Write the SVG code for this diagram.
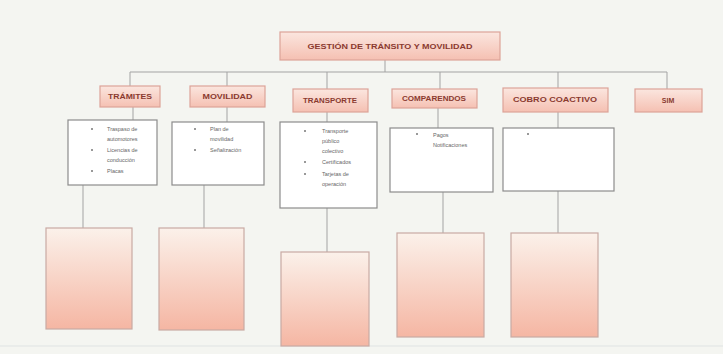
<svg xmlns="http://www.w3.org/2000/svg" width="723" height="354" viewBox="0 0 723 354">
<defs>
<linearGradient id="hdr" x1="0" y1="0" x2="0" y2="1">
<stop offset="0" stop-color="#fbe6df"/>
<stop offset="1" stop-color="#f5c0b2"/>
</linearGradient>
<linearGradient id="bot" x1="0" y1="0" x2="0" y2="1">
<stop offset="0" stop-color="#fbf1ea"/>
<stop offset="1" stop-color="#f5b6a3"/>
</linearGradient>
</defs>
<style>
.hdr{fill:url(#hdr);stroke:#dca398;stroke-width:1.2}
.bot{fill:url(#bot);stroke:#c9aaa3;stroke-width:1.2}
.box{fill:#ffffff;stroke:#8c8c8c;stroke-width:1.2}
.ht{font-family:"Liberation Sans",Arial,sans-serif;font-weight:bold;font-size:7px;fill:#8a3a30;text-anchor:middle}
.bt{font-family:"Liberation Sans",Arial,sans-serif;font-size:5.5px;fill:#666}
.bu{fill:#777}
.con line{stroke:#a3a3a3;stroke-width:1}
</style>
<rect width="723" height="354" fill="#f4f5f1"/>
<line x1="0" y1="346" x2="723" y2="346" stroke="#dfe3e3" stroke-width="1"/>
<g class="con">
<line x1="385" y1="60" x2="385" y2="72"/>
<line x1="130" y1="72" x2="667" y2="72"/>
<line x1="130" y1="72" x2="130" y2="86"/>
<line x1="227" y1="72" x2="227" y2="86"/>
<line x1="327" y1="72" x2="327" y2="89"/>
<line x1="440" y1="72" x2="440" y2="89"/>
<line x1="558" y1="72" x2="558" y2="89"/>
<line x1="667" y1="72" x2="667" y2="90"/>
<line x1="133" y1="107" x2="133" y2="120"/>
<line x1="227" y1="107" x2="227" y2="122"/>
<line x1="327" y1="112" x2="327" y2="122"/>
<line x1="438" y1="108" x2="438" y2="128"/>
<line x1="558" y1="112" x2="558" y2="128"/>
<line x1="83" y1="185" x2="83" y2="228"/>
<line x1="204" y1="185" x2="204" y2="228"/>
<line x1="327" y1="208" x2="327" y2="252"/>
<line x1="443" y1="192" x2="443" y2="233"/>
<line x1="558" y1="191" x2="558" y2="233"/>
</g>
<g id="title">
<rect class="hdr" x="280" y="32" width="220" height="28"/>
<text class="ht" x="390" y="49" font-size="7.5" textLength="165" lengthAdjust="spacingAndGlyphs">GESTIÓN DE TRÁNSITO Y MOVILIDAD</text>
</g>
<g id="tramites">
<rect class="hdr" x="100" y="86" width="60" height="21"/>
<text class="ht" x="130" y="99" textLength="44" lengthAdjust="spacingAndGlyphs">TRÁMITES</text>
</g>
<g id="movilidad">
<rect class="hdr" x="190" y="86" width="75" height="21"/>
<text class="ht" x="227.5" y="99" textLength="50" lengthAdjust="spacingAndGlyphs">MOVILIDAD</text>
</g>
<g id="transporte">
<rect class="hdr" x="293" y="89" width="75" height="23"/>
<text class="ht" x="330" y="103" textLength="54" lengthAdjust="spacingAndGlyphs">TRANSPORTE</text>
</g>
<g id="comparendos">
<rect class="hdr" x="392" y="89" width="85" height="19"/>
<text class="ht" x="434" y="101" textLength="64" lengthAdjust="spacingAndGlyphs">COMPARENDOS</text>
</g>
<g id="cobro">
<rect class="hdr" x="503" y="88" width="105" height="24"/>
<text class="ht" x="555" y="102" textLength="84" lengthAdjust="spacingAndGlyphs">COBRO COACTIVO</text>
</g>
<g id="sim">
<rect class="hdr" x="635" y="89" width="67" height="23"/>
<text class="ht" x="668" y="103">SIM</text>
</g>
<g id="box-tramites">
<rect class="box" x="68" y="120" width="89" height="65"/>
<circle class="bu" cx="92" cy="129" r="1"/>
<text class="bt" x="107" y="131">Traspaso de</text>
<text class="bt" x="107" y="141">automotores</text>
<circle class="bu" cx="92" cy="150" r="1"/>
<text class="bt" x="107" y="152">Licencias de</text>
<text class="bt" x="107" y="162">conducción</text>
<circle class="bu" cx="92" cy="171" r="1"/>
<text class="bt" x="107" y="173">Placas</text>
</g>
<g id="box-movilidad">
<rect class="box" x="172" y="122" width="92" height="63"/>
<circle class="bu" cx="195" cy="129" r="1"/>
<text class="bt" x="210" y="131">Plan de</text>
<text class="bt" x="210" y="141">movilidad</text>
<circle class="bu" cx="195" cy="150" r="1"/>
<text class="bt" x="210" y="152">Señalización</text>
</g>
<g id="box-transporte">
<rect class="box" x="280" y="122" width="97" height="86"/>
<circle class="bu" cx="305" cy="131" r="1"/>
<text class="bt" x="322" y="133">Transporte</text>
<text class="bt" x="322" y="143">público</text>
<text class="bt" x="322" y="153">colectivo</text>
<circle class="bu" cx="305" cy="162" r="1"/>
<text class="bt" x="322" y="164">Certificados</text>
<circle class="bu" cx="305" cy="174" r="1"/>
<text class="bt" x="322" y="176">Tarjetas de</text>
<text class="bt" x="322" y="186">operación</text>
</g>
<g id="box-comparendos">
<rect class="box" x="390" y="128" width="103" height="64"/>
<circle class="bu" cx="417" cy="134" r="1"/>
<text class="bt" x="433" y="137">Pagos</text>
<text class="bt" x="433" y="147">Notificaciones</text>
</g>
<g id="box-cobro">
<rect class="box" x="503" y="128" width="111" height="63"/>
<circle class="bu" cx="528" cy="134" r="1"/>
</g>
<g id="bot-1"><rect class="bot" x="46" y="228" width="86" height="101"/></g>
<g id="bot-2"><rect class="bot" x="159" y="228" width="85" height="102"/></g>
<g id="bot-3"><rect class="bot" x="281" y="252" width="88" height="94"/></g>
<g id="bot-4"><rect class="bot" x="397" y="233" width="87" height="104"/></g>
<g id="bot-5"><rect class="bot" x="511" y="233" width="87" height="104"/></g>
</svg>
